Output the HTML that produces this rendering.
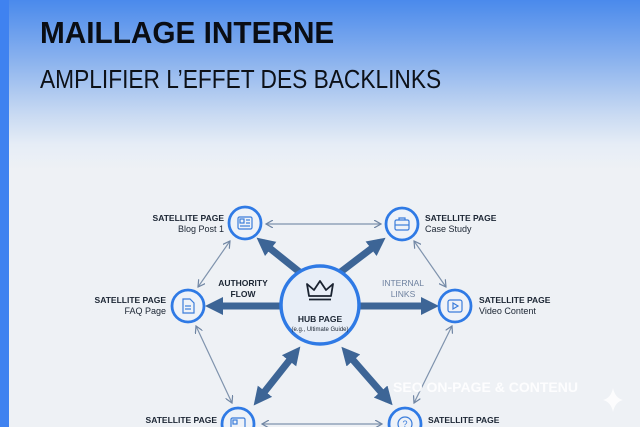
<!DOCTYPE html>
<html><head><meta charset="utf-8"><style>
html,body{margin:0;padding:0}
body{width:640px;height:427px;overflow:hidden;position:relative;font-family:"Liberation Sans",sans-serif;
background:linear-gradient(180deg,#4a8aec 0px,#8ab2ee 60px,#c9daf2 115px,#e6edf6 145px,#eef1f5 170px,#eef1f5 427px)}
.stripe{position:absolute;left:0;top:0;width:9px;height:427px;background:#3f82f0}
h1{position:absolute;left:40px;top:15px;margin:0;font-weight:bold;font-size:31px;color:#0a0d14;transform:scaleX(0.96);transform-origin:0 0;white-space:nowrap}
h2{position:absolute;left:40px;top:64px;margin:0;font-weight:normal;font-size:26px;color:#0d1118;transform:scaleX(0.874);transform-origin:0 0;white-space:nowrap}
svg{position:absolute;left:0;top:0}
</style></head><body>
<div class="stripe"></div>
<h1>MAILLAGE INTERNE</h1>
<h2>AMPLIFIER L’EFFET DES BACKLINKS</h2>
<svg width="640" height="427" viewBox="0 0 640 427">
<defs>
<marker id="t" markerWidth="8" markerHeight="8" refX="7" refY="4" orient="auto-start-reverse" markerUnits="userSpaceOnUse"><path d="M0,0 L7,4 L0,8" fill="none" stroke="#6f85a3" stroke-width="1.2"/></marker>
<marker id="T" markerWidth="2.6" markerHeight="2.6" refX="1.6" refY="1.3" orient="auto-start-reverse"><path d="M0,0 L2.6,1.3 L0,2.6 z" fill="#3d6596"/></marker>
</defs>
<g stroke="#7f93ad" stroke-width="1.2" fill="none" marker-start="url(#t)" marker-end="url(#t)">
<line x1="266" y1="224" x2="381" y2="224"/>
<line x1="230" y1="241" x2="198" y2="287"/>
<line x1="414" y1="241" x2="446" y2="287"/>
<line x1="196" y1="326" x2="232" y2="403"/>
<line x1="452" y1="326" x2="414" y2="403"/>
<line x1="262" y1="424" x2="382" y2="424"/>
</g>
<g stroke="#3d6596" stroke-width="7" fill="none">
<line x1="302" y1="274" x2="262" y2="242" marker-end="url(#T)"/>
<line x1="338" y1="274" x2="380" y2="242" marker-end="url(#T)"/>
<line x1="282" y1="306" x2="212" y2="306" marker-end="url(#T)"/>
<line x1="358" y1="306" x2="432" y2="306" marker-end="url(#T)"/>
<line x1="296" y1="352" x2="258" y2="400" marker-start="url(#T)" marker-end="url(#T)"/>
<line x1="346" y1="352" x2="388" y2="400" marker-start="url(#T)" marker-end="url(#T)"/>
</g>
<circle cx="320" cy="305" r="39" fill="#e8eef7" stroke="#2f7ae5" stroke-width="3.5"/>
<path d="M309,296 L307,284 L314,290 L320,281 L326,290 L333,284 L331,296 Z" fill="none" stroke="#1a2230" stroke-width="1.8" stroke-linejoin="round"/>
<line x1="309" y1="299.5" x2="331" y2="299.5" stroke="#1a2230" stroke-width="1.8"/>
<text x="320" y="322" text-anchor="middle" font-size="8.5" font-weight="bold" fill="#1b2533">HUB PAGE</text>
<text x="320" y="331" text-anchor="middle" font-size="6" fill="#1b2533">(e.g., Ultimate Guide)</text>
<g fill="#eef2f8" stroke="#2f7ae5" stroke-width="2.8">
<circle cx="245" cy="223" r="16"/><circle cx="402" cy="224" r="16"/>
<circle cx="188" cy="306" r="16"/><circle cx="455" cy="306" r="16"/>
<circle cx="238" cy="424" r="16"/><circle cx="405" cy="424" r="16"/>
</g>
<g fill="none" stroke="#3b7ddb" stroke-width="1.2">
<rect x="238" y="217" width="14" height="12" rx="1.5"/><rect x="240" y="219" width="4" height="4"/><line x1="246" y1="220" x2="250" y2="220"/><line x1="246" y1="223" x2="250" y2="223"/><line x1="240" y1="226" x2="250" y2="226"/>
<rect x="395" y="220" width="14" height="10" rx="1.5"/><path d="M399,220 v-2 h6 v2"/><line x1="395" y1="225" x2="409" y2="225"/>
<path d="M183,299 h7 l4,4 v10 h-11 z"/><line x1="185" y1="306" x2="191" y2="306"/><line x1="185" y1="309" x2="191" y2="309"/>
<rect x="448" y="300" width="14" height="12" rx="2"/><path d="M453,303 l5,3 l-5,3 z"/>
<rect x="231" y="418" width="14" height="12" rx="1.5"/><rect x="233" y="420" width="4" height="4"/>
<circle cx="405" cy="424" r="7"/>
</g>
<text x="405" y="427" text-anchor="middle" font-size="9" fill="#3b7ddb">?</text>
<g font-size="8.5" fill="#1b2533">
<text x="224" y="221" text-anchor="end" font-weight="bold">SATELLITE PAGE</text>
<text x="224" y="232" text-anchor="end" font-size="9">Blog Post 1</text>
<text x="425" y="221" font-weight="bold">SATELLITE PAGE</text>
<text x="425" y="232" font-size="9">Case Study</text>
<text x="166" y="303" text-anchor="end" font-weight="bold">SATELLITE PAGE</text>
<text x="166" y="314" text-anchor="end" font-size="9">FAQ Page</text>
<text x="479" y="303" font-weight="bold">SATELLITE PAGE</text>
<text x="479" y="314" font-size="9">Video Content</text>
<text x="217" y="423" text-anchor="end" font-weight="bold">SATELLITE PAGE</text>
<text x="428" y="423" font-weight="bold">SATELLITE PAGE</text>
<text x="243" y="286" text-anchor="middle" font-weight="bold">AUTHORITY</text>
<text x="243" y="297" text-anchor="middle" font-weight="bold">FLOW</text>
<text x="403" y="286" text-anchor="middle" fill="#6f82a0">INTERNAL</text>
<text x="403" y="297" text-anchor="middle" fill="#6f82a0">LINKS</text>
</g>
<text x="393" y="392" font-size="14" font-weight="bold" fill="#ffffff" opacity="0.9" textLength="185" lengthAdjust="spacingAndGlyphs">SEO ON-PAGE &amp; CONTENU</text>
<path d="M613,388 Q615,398 623,400 Q615,402 613,412 Q611,402 603,400 Q611,398 613,388Z" fill="#ffffff" opacity="0.8"/>
</svg>
</body></html>
